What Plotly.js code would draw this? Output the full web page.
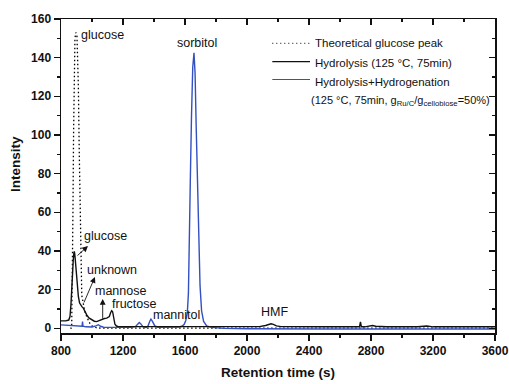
<!DOCTYPE html>
<html>
<head>
<meta charset="utf-8">
<script src="https://cdn.plot.ly/plotly-3.0.1.min.js"></script>
<style>
  html, body { margin: 0; padding: 0; background: #fff; }
  #chart { width: 509px; height: 384px; }
</style>
</head>
<body>
<div id="chart"></div>
<script>
// Theoretical glucose peak (dotted)
const theoX = [860, 866, 869, 873, 877, 881, 886, 890, 896, 903, 907, 912, 918, 923, 927, 930, 934, 940, 952, 966, 982, 998, 1030, 1060, 3600];
const theoY = [0, 0, 1, 20, 60, 100, 135, 150, 153, 151, 140, 125, 90, 60, 40, 24, 17, 14.5, 9, 6, 3, 1.2, 0.2, 0, 0];

// Hydrolysis (125 °C, 75 min)
const hydX = [800, 830, 850, 858, 864, 869, 875, 879, 883, 886, 890, 897, 905, 912, 920, 927, 936, 944, 955, 966, 980, 998, 1015, 1030, 1048, 1063, 1080, 1095, 1105, 1112, 1120, 1127, 1133, 1140, 1148, 1158, 1170, 1250, 1350, 1500, 1700, 1900, 2080, 2120, 2140, 2155, 2170, 2190, 2220, 2300, 2500, 2700, 2726, 2732, 2738, 2760, 2790, 2810, 2830, 2900, 3100, 3140, 3160, 3200, 3400, 3600];
const hydY = [3.8, 3.8, 4.2, 6, 12, 21.5, 30, 35, 39, 39.7, 37.5, 30, 21, 16.4, 13, 12, 11, 10.4, 8.5, 6.9, 5.3, 4.3, 3.6, 3.4, 4, 4.8, 5, 5.2, 5.6, 6, 8, 9, 8.5, 5.5, 2, 1.1, 0.8, 0.8, 0.8, 0.8, 0.7, 0.7, 0.8, 1.4, 2.1, 2.3, 2, 1.2, 0.8, 0.7, 0.7, 0.7, 0.7, 3.2, 0.7, 0.7, 1.0, 1.4, 1.0, 0.7, 0.7, 1.1, 1.1, 0.7, 0.7, 0.7];

// Hydrolysis + Hydrogenation
const hgX = [800, 850, 900, 930, 936, 939, 942, 960, 1000, 1025, 1041, 1055, 1075, 1150, 1250, 1280, 1295, 1305, 1315, 1330, 1350, 1362, 1372, 1380, 1390, 1405, 1425, 1500, 1560, 1580, 1595, 1605, 1615, 1622, 1628, 1634, 1642, 1650, 1658, 1665, 1672, 1680, 1688, 1697, 1707, 1720, 1740, 1770, 1850, 2000, 2500, 3000, 3600];
const hgY = [1.7, 1.4, 1.0, 0.8, 1.0, 3.4, 1.0, 0.7, 0.6, 1.2, 1.8, 1.0, 0.5, 0.4, 0.4, 0.8, 2.2, 2.9, 2.2, 0.7, 0.4, 1.2, 3.5, 4.7, 3.5, 1.2, 0.5, 0.4, 0.6, 1.0, 2, 4, 8, 18, 40, 75, 110, 135, 142.5, 132, 105, 75, 45, 22, 9, 3.5, 1.2, 0.4, -0.1, -0.3, -0.4, -0.4, -0.4];

// Peak labels and legend text
const peakLabels = ['glucose', 'sorbitol', 'glucose', 'unknown', 'mannose', 'fructose', 'mannitol', 'HMF'];
const legendText = [
  'Theoretical glucose peak',
  'Hydrolysis (125 °C, 75min)',
  'Hydrolysis+Hydrogenation',
  '(125 °C, 75min, g<sub>Ru/C</sub>/g<sub>cellobiose</sub>=50%)'
];
const xTitle = 'Retention time (s)';
const yTitle = 'Intensity';

const W = 509, H = 384;
const M = { l: 61, r: 14, t: 19, b: 51 };
const PW = W - M.l - M.r, PH = H - M.t - M.b;
const px = x => (x - M.l) / PW;          // page x -> paper
const py = y => (M.t + PH - y) / PH;     // page y -> paper

const FONT = 'Liberation Sans, Arial, sans-serif';
const BLUE = '#3350c2';
const XR = [800, 3600], YR = [-2.5, 160];

const traces = [
  { x: theoX, y: theoY, mode: 'lines', line: { color: '#000', width: 1.3, dash: '1.5px,2.5px' }, hoverinfo: 'skip' },
  { x: hgX, y: hgY, mode: 'lines', line: { color: BLUE, width: 1.4 }, hoverinfo: 'skip' },
  { x: hydX, y: hydY, mode: 'lines', line: { color: '#111', width: 1.4 }, hoverinfo: 'skip' },
  // carrier for the mirrored top/right axes
  { x: [], y: [], xaxis: 'x2', yaxis: 'y2', mode: 'lines', hoverinfo: 'skip' }
];

const lab = (text, x, y, xanchor) => ({
  text, x, y, xref: 'x', yref: 'y', xanchor: xanchor || 'left', yanchor: 'middle',
  showarrow: false, font: { family: FONT, size: 12.5, color: '#111' }
});
const arrow = (hx, hy, tx, ty) => ({
  text: '', x: hx, y: hy, ax: tx, ay: ty, xref: 'x', yref: 'y', axref: 'x', ayref: 'y',
  showarrow: true, arrowhead: 2, arrowsize: 1.3, arrowwidth: 0.9, arrowcolor: '#111', standoff: 0
});

const annotations = [
  lab(peakLabels[0], 918, 151.8),
  lab(peakLabels[1], 1677, 147.5, 'center'),
  lab(peakLabels[2], 935, 47.7),
  lab(peakLabels[3], 955, 30.1),
  lab(peakLabels[4], 1008, 19.3),
  lab(peakLabels[5], 1119, 12.3),
  lab(peakLabels[6], 1381, 6.6),
  lab(peakLabels[7], 2177, 8.2, 'center'),
  arrow(974, 42.5, 897, 36.9),
  arrow(1019, 26.5, 944, 12.5),
  arrow(1069, 15.1, 1069, 4.2)
];

// legend rows
const legRowsY = [43.3, 62.5, 81.5, 101];
legendText.forEach((t, i) => {
  annotations.push({
    text: t, xref: 'paper', yref: 'paper', x: px(i === 3 ? 308.5 : 313.3), y: py(legRowsY[i]),
    xanchor: 'left', yanchor: 'middle', showarrow: false,
    font: { family: FONT, size: i === 3 ? 11 : 11.5, color: '#111' }
  });
});

// axis titles
annotations.push({
  text: xTitle, xref: 'paper', yref: 'paper', x: px(278), y: py(372),
  xanchor: 'center', yanchor: 'middle', showarrow: false,
  font: { family: FONT, size: 13.5, color: '#111', weight: 'bold' }
});
annotations.push({
  text: yTitle, xref: 'paper', yref: 'paper', x: px(15), y: py(164), textangle: -90,
  xanchor: 'center', yanchor: 'middle', showarrow: false,
  font: { family: FONT, size: 13.5, color: '#111', weight: 'bold' }
});

const shapes = [
  { type: 'line', xref: 'paper', yref: 'paper', x0: px(272.3), x1: px(310), y0: py(43.3), y1: py(43.3),
    line: { color: '#000', width: 1, dash: '1px,3px' } },
  { type: 'line', xref: 'paper', yref: 'paper', x0: px(272.3), x1: px(310), y0: py(61.7), y1: py(61.7),
    line: { color: '#111', width: 1.2 } },
  { type: 'line', xref: 'paper', yref: 'paper', x0: px(272.3), x1: px(310), y0: py(79.5), y1: py(79.5),
    line: { color: BLUE, width: 1.2 } }
];

const tickFont = { family: FONT, size: 12, color: '#111', weight: 'bold' };
const baseAxis = {
  showgrid: false, zeroline: false, showline: true, linecolor: '#111', linewidth: 1.5,
  tickcolor: '#111', tickwidth: 1.3, ticklen: 6
};

const layout = {
  width: W, height: H, margin: M,
  paper_bgcolor: '#fff', plot_bgcolor: '#fff', showlegend: false,
  xaxis: Object.assign({}, baseAxis, {
    range: XR, tickmode: 'linear', tick0: 800, dtick: 400, ticks: 'outside', tickfont: tickFont,
    minor: { dtick: 200, ticks: 'outside', ticklen: 3, tickcolor: '#111', tickwidth: 1.3 }
  }),
  yaxis: Object.assign({}, baseAxis, {
    range: YR, tickmode: 'linear', tick0: 0, dtick: 20, ticks: 'outside', tickfont: tickFont,
    minor: { dtick: 10, ticks: 'outside', ticklen: 3, tickcolor: '#111', tickwidth: 1.3 }
  }),
  xaxis2: Object.assign({}, baseAxis, {
    overlaying: 'x', side: 'top', anchor: 'y2', range: XR, tickmode: 'linear', tick0: 800, dtick: 400,
    ticks: 'inside', showticklabels: false,
    minor: { dtick: 200, ticks: 'inside', ticklen: 3, tickcolor: '#111', tickwidth: 1.3 }
  }),
  yaxis2: Object.assign({}, baseAxis, {
    overlaying: 'y', side: 'right', anchor: 'x2', range: YR, tickmode: 'linear', tick0: 0, dtick: 20,
    ticks: 'inside', showticklabels: false,
    minor: { dtick: 10, ticks: 'inside', ticklen: 3, tickcolor: '#111', tickwidth: 1.3 }
  }),
  annotations, shapes
};

Plotly.newPlot('chart', traces, layout, { staticPlot: true, displayModeBar: false });
</script>
</body>
</html>
